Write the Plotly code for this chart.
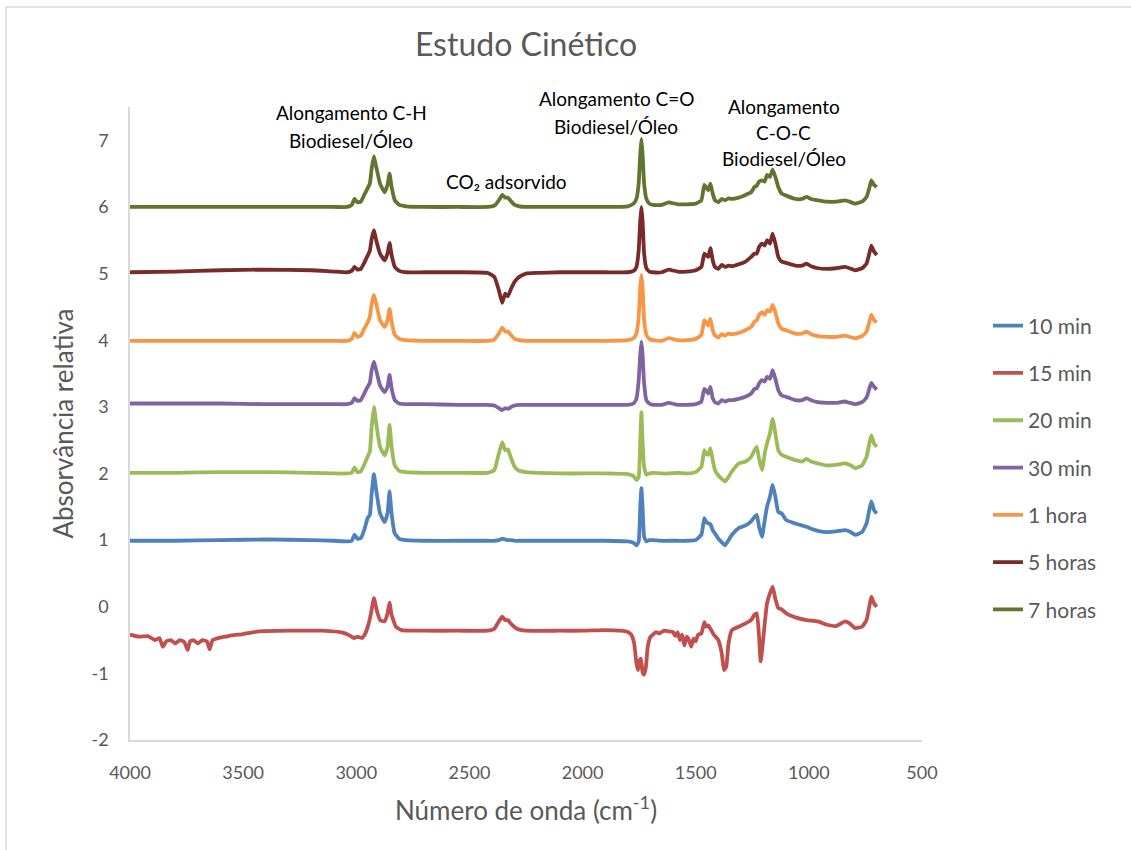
import plotly.graph_objects as go

# Wavenumber grid (cm-1) shared by most series
wn = [4000, 3800, 3600, 3400, 3200, 3100, 3040, 3020, 3008, 2995,
      2980, 2965, 2950, 2940, 2932, 2922, 2912, 2895, 2875, 2862,
      2853, 2844, 2830, 2810, 2780, 2700, 2550, 2420, 2390, 2370,
      2355, 2342, 2330, 2315, 2300, 2280, 2250, 2200, 2100, 2000,
      1900, 1800, 1775, 1762, 1752, 1745, 1740, 1735, 1728, 1718,
      1705, 1690, 1650, 1620, 1580, 1540, 1500, 1475, 1462, 1455,
      1445, 1435, 1425, 1415, 1400, 1385, 1370, 1355, 1340, 1310,
      1280, 1255, 1240, 1230, 1220, 1207, 1195, 1185, 1172, 1160,
      1148, 1135, 1120, 1100, 1060, 1030, 1010, 990, 960, 920,
      880, 840, 820, 795, 765, 745, 733, 724, 712, 700]

abs_10min = [0.99, 0.99, 1.00, 1.01, 1.00, 0.99, 0.98, 0.99, 1.08, 1.02,
             1.03, 1.15, 1.33, 1.38, 1.70, 1.99, 1.75, 1.40, 1.27, 1.40,
             1.73, 1.40, 1.10, 1.02, 1.00, 0.99, 0.99, 0.99, 0.99, 1.00,
             1.02, 1.01, 1.00, 1.00, 0.99, 0.99, 0.99, 0.99, 0.99, 0.99,
             0.99, 0.98, 0.96, 0.92, 0.98, 1.50, 1.78, 1.50, 1.05, 0.98,
             1.00, 1.00, 0.99, 0.99, 0.99, 0.99, 1.00, 1.08, 1.33, 1.28,
             1.25, 1.24, 1.15, 1.10, 1.02, 0.97, 0.92, 1.00, 1.08, 1.18,
             1.22, 1.28, 1.35, 1.38, 1.20, 1.05, 1.30, 1.50, 1.65, 1.83,
             1.65, 1.42, 1.40, 1.30, 1.25, 1.22, 1.20, 1.17, 1.14, 1.12,
             1.13, 1.15, 1.13, 1.08, 1.12, 1.25, 1.45, 1.58, 1.45, 1.40]

abs_20min = [2.01, 2.01, 2.02, 2.02, 2.01, 2.00, 2.00, 2.01, 2.09, 2.02,
             2.03, 2.13, 2.25, 2.33, 2.70, 3.00, 2.75, 2.40, 2.27, 2.40,
             2.73, 2.40, 2.12, 2.04, 2.02, 2.01, 2.01, 2.01, 2.05, 2.30,
             2.47, 2.35, 2.36, 2.22, 2.10, 2.04, 2.02, 2.01, 2.00, 2.00,
             2.00, 1.99, 1.96, 1.90, 1.95, 2.50, 2.92, 2.50, 2.10, 1.98,
             2.00, 2.01, 2.00, 2.00, 2.01, 2.00, 2.02, 2.10, 2.35, 2.30,
             2.28, 2.38, 2.20, 2.05, 1.97, 1.92, 1.88, 1.95, 2.03, 2.15,
             2.18, 2.25, 2.35, 2.40, 2.22, 2.05, 2.30, 2.45, 2.60, 2.82,
             2.60, 2.35, 2.28, 2.25, 2.20, 2.18, 2.22, 2.18, 2.15, 2.12,
             2.13, 2.15, 2.13, 2.08, 2.12, 2.25, 2.45, 2.57, 2.45, 2.40]

abs_30min = [3.05, 3.05, 3.05, 3.04, 3.04, 3.04, 3.04, 3.06, 3.13, 3.09,
             3.10, 3.20, 3.30, 3.36, 3.55, 3.68, 3.55, 3.32, 3.22, 3.30,
             3.48, 3.28, 3.10, 3.05, 3.04, 3.04, 3.03, 3.03, 3.02, 2.98,
             2.95, 2.98, 2.97, 3.00, 3.02, 3.03, 3.03, 3.03, 3.03, 3.03,
             3.03, 3.03, 3.05, 3.12, 3.40, 3.80, 3.98, 3.80, 3.35, 3.10,
             3.05, 3.03, 3.03, 3.06, 3.03, 3.03, 3.04, 3.08, 3.27, 3.25,
             3.20, 3.30, 3.13, 3.07, 3.05, 3.10, 3.08, 3.10, 3.10, 3.12,
             3.15, 3.20, 3.27, 3.28, 3.35, 3.40, 3.38, 3.45, 3.42, 3.55,
             3.42, 3.25, 3.17, 3.15, 3.10, 3.10, 3.13, 3.10, 3.07, 3.06,
             3.06, 3.08, 3.06, 3.04, 3.07, 3.14, 3.27, 3.36, 3.30, 3.26]

abs_1h = [3.99, 3.99, 3.99, 3.99, 3.99, 3.99, 3.99, 4.02, 4.11, 4.05,
          4.07, 4.17, 4.27, 4.35, 4.55, 4.68, 4.55, 4.30, 4.20, 4.30,
          4.47, 4.28, 4.08, 4.02, 4.00, 3.99, 3.99, 3.99, 4.01, 4.10,
          4.19, 4.13, 4.13, 4.07, 4.02, 4.00, 3.99, 3.99, 3.99, 3.99,
          3.99, 4.00, 4.03, 4.10, 4.35, 4.80, 4.98, 4.80, 4.30, 4.08,
          4.02, 4.00, 3.99, 4.03, 4.00, 4.00, 4.02, 4.08, 4.30, 4.27,
          4.22, 4.32, 4.15, 4.07, 4.04, 4.09, 4.07, 4.10, 4.09, 4.11,
          4.15, 4.20, 4.28, 4.30, 4.38, 4.42, 4.38, 4.45, 4.43, 4.53,
          4.42, 4.25, 4.17, 4.15, 4.10, 4.10, 4.13, 4.09, 4.06, 4.05,
          4.05, 4.07, 4.05, 4.03, 4.06, 4.13, 4.27, 4.38, 4.30, 4.27]

abs_5h = [5.02, 5.03, 5.05, 5.06, 5.05, 5.03, 5.02, 5.04, 5.10, 5.06,
          5.07, 5.16, 5.27, 5.34, 5.52, 5.65, 5.50, 5.30, 5.20, 5.30,
          5.46, 5.28, 5.10, 5.04, 5.02, 5.02, 5.02, 5.01, 4.95, 4.75,
          4.56, 4.70, 4.66, 4.78, 4.88, 4.95, 5.00, 5.01, 5.02, 5.02,
          5.02, 5.02, 5.04, 5.10, 5.35, 5.80, 6.00, 5.80, 5.30, 5.08,
          5.03, 5.02, 5.02, 5.06, 5.03, 5.03, 5.05, 5.10, 5.30, 5.28,
          5.25, 5.38, 5.20, 5.10, 5.07, 5.13, 5.10, 5.12, 5.11, 5.14,
          5.18, 5.25, 5.30, 5.30, 5.40, 5.45, 5.42, 5.50, 5.45, 5.60,
          5.45, 5.25, 5.18, 5.16, 5.12, 5.12, 5.15, 5.11, 5.08, 5.07,
          5.08, 5.10, 5.08, 5.05, 5.08, 5.15, 5.30, 5.42, 5.33, 5.28]

abs_7h = [6.00, 6.00, 6.00, 6.00, 6.00, 6.00, 6.00, 6.03, 6.12, 6.07,
          6.08, 6.18, 6.28, 6.35, 6.58, 6.76, 6.60, 6.35, 6.22, 6.33,
          6.50, 6.30, 6.10, 6.03, 6.01, 6.00, 6.00, 6.00, 6.02, 6.10,
          6.18, 6.14, 6.14, 6.08, 6.03, 6.01, 6.00, 6.00, 6.00, 6.00,
          6.00, 6.01, 6.05, 6.12, 6.35, 6.80, 7.02, 6.80, 6.35, 6.12,
          6.05, 6.03, 6.03, 6.07, 6.04, 6.04, 6.05, 6.10, 6.33, 6.30,
          6.25, 6.35, 6.20, 6.10, 6.07, 6.12, 6.10, 6.13, 6.12, 6.14,
          6.18, 6.22, 6.30, 6.32, 6.38, 6.40, 6.38, 6.48, 6.45, 6.56,
          6.45, 6.30, 6.20, 6.17, 6.12, 6.12, 6.15, 6.12, 6.10, 6.08,
          6.08, 6.10, 6.08, 6.05, 6.08, 6.15, 6.28, 6.40, 6.33, 6.30]

# 15 min spectrum is noisier: its own wavenumber list
wn_15min = [4000, 3960, 3920, 3890, 3870, 3855, 3840, 3820, 3800, 3780,
            3760, 3745, 3735, 3720, 3700, 3680, 3660, 3648, 3635, 3610,
            3580, 3550, 3500, 3430, 3300, 3150, 3060, 3030, 3010, 2995,
            2975, 2960, 2945, 2935, 2922, 2910, 2895, 2875, 2862, 2853,
            2844, 2825, 2800, 2700, 2550, 2420, 2390, 2370, 2355, 2342,
            2330, 2315, 2290, 2250, 2100, 2000, 1900, 1830, 1800, 1785,
            1772, 1762, 1755, 1748, 1742, 1735, 1728, 1720, 1712, 1700,
            1690, 1675, 1660, 1640, 1620, 1600, 1590, 1580, 1570, 1560,
            1550, 1540, 1530, 1520, 1510, 1500, 1490, 1475, 1462, 1455,
            1445, 1435, 1420, 1400, 1385, 1375, 1365, 1355, 1340, 1310,
            1280, 1255, 1240, 1230, 1220, 1213, 1205, 1195, 1185, 1172,
            1160, 1148, 1135, 1120, 1100, 1060, 1010, 960, 920, 880,
            840, 820, 795, 765, 745, 733, 724, 712, 700]

abs_15min = [-0.42, -0.45, -0.44, -0.50, -0.47, -0.60, -0.52, -0.50, -0.55, -0.50,
             -0.53, -0.65, -0.52, -0.50, -0.55, -0.50, -0.52, -0.64, -0.50, -0.47,
             -0.45, -0.43, -0.41, -0.37, -0.36, -0.36, -0.39, -0.43, -0.47, -0.45,
             -0.47, -0.40, -0.25, -0.10, 0.13, -0.05, -0.20, -0.22, -0.10, 0.06,
             -0.12, -0.30, -0.35, -0.36, -0.36, -0.36, -0.33, -0.22, -0.15, -0.20,
             -0.20, -0.26, -0.33, -0.36, -0.36, -0.36, -0.35, -0.36, -0.38, -0.42,
             -0.55, -0.85, -0.95, -0.80, -0.78, -0.98, -1.02, -0.90, -0.60, -0.45,
             -0.42, -0.38, -0.40, -0.36, -0.37, -0.38, -0.44, -0.38, -0.50, -0.42,
             -0.58, -0.45, -0.50, -0.60, -0.48, -0.52, -0.42, -0.40, -0.23, -0.30,
             -0.28, -0.33, -0.42, -0.50, -0.70, -0.95, -0.90, -0.55, -0.35, -0.30,
             -0.25, -0.20, -0.12, -0.10, -0.45, -0.82, -0.60, -0.25, 0.05, 0.20,
             0.30, 0.12, -0.02, -0.04, -0.10, -0.16, -0.20, -0.22, -0.27, -0.29,
             -0.22, -0.25, -0.32, -0.30, -0.20, 0.00, 0.15, 0.05, 0.00]

series_names = ["10 min", "15 min", "20 min", "30 min", "1 hora", "5 horas", "7 horas"]
series_x = [wn, wn_15min, wn, wn, wn, wn, wn]
series_y = [abs_10min, abs_15min, abs_20min, abs_30min, abs_1h, abs_5h, abs_7h]
colors = ["#4F81BD", "#C0504D", "#9BBB59", "#8064A2", "#F79646", "#772C2A", "#5F7530"]

y_ticks = [-2, -1, 0, 1, 2, 3, 4, 5, 6, 7]
y_ticktext = ["-2", "-1", "0", "1", "2", "3", "4", "5", "6", "7"]
x_ticks = [4000, 3500, 3000, 2500, 2000, 1500, 1000, 500]

Y_MIN, Y_MAX = -2, 7.5
FONT = "Lato"
GRAY = "#595959"

fig = go.Figure()
for name, xs, ys, c in zip(series_names, series_x, series_y, colors):
    fig.add_trace(go.Scatter(x=xs, y=ys, mode="lines", name=name,
                             legendgroup=name,
                             line=dict(color=c, width=3.8, shape="spline", smoothing=0.4)))

# band labels: (text, wavenumber, absorbance level)
annots = [
    ("Alongamento C-H", 3023, 7.41),
    ("Biodiesel/Óleo", 3023, 7.0),
    ("CO₂ adsorvido", 2334, 6.375),
    ("Alongamento C=O", 1852, 7.63),
    ("Biodiesel/Óleo", 1852, 7.2),
    ("Alongamento", 1110, 7.51),
    ("C-O-C", 1110, 7.12),
    ("Biodiesel/Óleo", 1110, 6.73),
]
annotations = [dict(text=t, x=x, y=(y - Y_MIN) / (Y_MAX - Y_MIN), xref="x", yref="paper",
                    showarrow=False, yanchor="middle",
                    font=dict(family=FONT, size=19, color="#000000"))
               for t, x, y in annots]
annotations.append(dict(text="Número de onda (cm<sup>-1</sup>)", x=0.5, y=(740 - 808) / 633,
                        xref="paper", yref="paper", showarrow=False, yanchor="middle",
                        font=dict(family=FONT, size=26, color=GRAY)))
annotations.append(dict(text="Absorvância relativa", x=(62 - 130) / 792, y=0.5,
                        xref="paper", yref="paper", showarrow=False, textangle=-90,
                        xanchor="center", yanchor="middle",
                        font=dict(family=FONT, size=26, color=GRAY)))

fig.update_layout(
    width=1131, height=850,
    margin=dict(l=130, r=209, t=107, b=110),
    paper_bgcolor="white", plot_bgcolor="white",
    title=dict(text="Estudo Cinético", x=(130 + 922) / 2 / 1131, xanchor="center",
               y=1 - 45 / 850, yanchor="middle", yref="container",
               font=dict(family=FONT, size=32, color=GRAY)),
    showlegend=True,
    legend=dict(x=(988 - 130) / 792, xanchor="left", y=(740 - 468) / 633, yanchor="middle",
                font=dict(family=FONT, size=21, color=GRAY), tracegroupgap=17,
                bgcolor="rgba(0,0,0,0)"),
    annotations=annotations,
    shapes=[dict(type="rect", xref="paper", yref="paper",
                 x0=(6 - 130) / 792, x1=(1140 - 130) / 792,
                 y0=(740 - 860) / 633, y1=(740 - 7) / 633,
                 line=dict(color="#D9D9D9", width=1.5))],
)
fig.update_xaxes(range=[4000, 500], tickvals=x_ticks, showgrid=False, zeroline=False,
                 showline=True, linecolor="#D9D9D9", linewidth=1.5, ticks="",
                 ticklabelstandoff=16,
                 tickfont=dict(family=FONT, size=18, color=GRAY))
fig.update_yaxes(range=[Y_MIN, Y_MAX], tickvals=y_ticks, ticktext=y_ticktext,
                 showgrid=False, zeroline=False,
                 showline=True, linecolor="#D9D9D9", linewidth=1.5, ticks="",
                 ticklabelstandoff=16,
                 tickfont=dict(family=FONT, size=18, color=GRAY))

fig.write_html("out.html")
